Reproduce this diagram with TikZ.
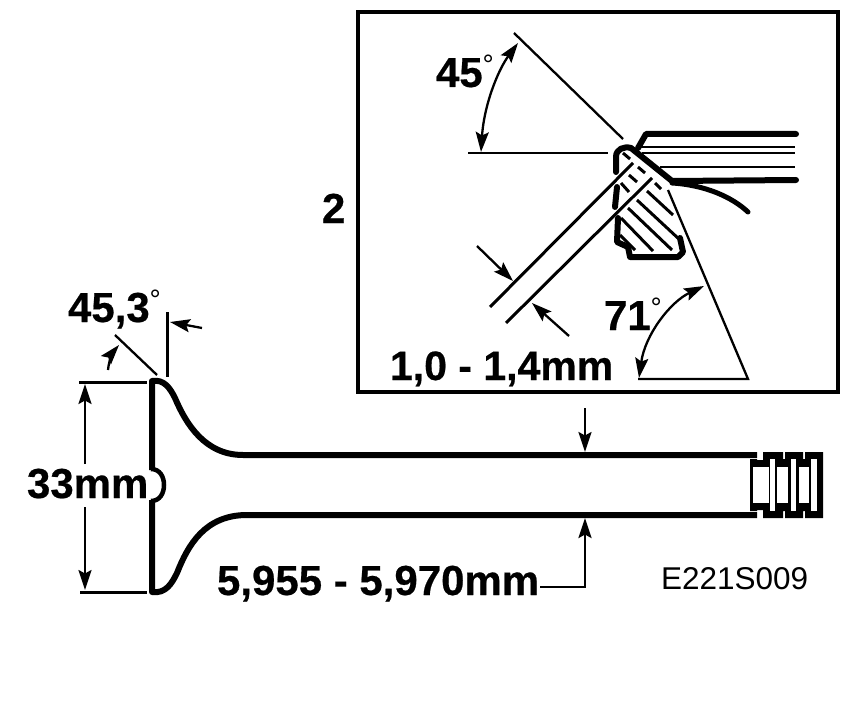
\documentclass[tikz,border=0pt]{standalone}
\usepackage{fontspec}
\setmainfont{Liberation Sans}[BoldFeatures={FakeBold=0.5}]
\usetikzlibrary{arrows.meta}
\tikzset{
  lab/.style={anchor=base west,inner sep=0pt,outer sep=0pt,font=\fontsize{42}{42}\selectfont\bfseries},
  thin line/.style={line width=2.3pt},
  thick line/.style={line width=6pt,line cap=round,line join=round},
  mid line/.style={line width=3pt},
  hatch/.style={line width=3pt},
  arr/.style={line width=2.3pt,-{Stealth[length=20pt,width=13pt,inset=3.5pt]}},
  darr/.style={line width=2.3pt,{Stealth[length=20pt,width=13pt,inset=3.5pt]}-{Stealth[length=20pt,width=13pt,inset=3.5pt]}}
}
\newcommand{\degsign}{\raisebox{0.3em}{\fontsize{28}{28}\selectfont\mdseries °}}
\begin{document}
\begin{tikzpicture}[x=1pt,y=-1pt]
\useasboundingbox (0,0) rectangle (864,722);
% inset frame
\draw[line width=4pt] (358,12) rectangle (838,392);
% inset: 45 degree
\draw[thin line] (514,33) -- (623,139);
\draw[thin line] (468,153) -- (608,153);
\draw[darr] (481,152) .. controls (484,105) and (498,70) .. (518,43);
% inset: valve
\draw[thick line] (616,172) -- (616,157) .. controls (616,149) and (624,146) .. (631,148) -- (672,181) -- (796,180);
\draw[line width=5pt,line cap=round] (672,183) .. controls (705,185) and (732,197) .. (748,212);
\draw[thick line] (638,148) -- (646,134) -- (796,134);
\draw[line width=2.6pt] (640,147) -- (795,147);
\draw[line width=2.6pt] (642,153) -- (795,153);
\draw[line width=2.6pt] (660,167) -- (795,167);
% inset: seat
\draw[thick line] (617,187) -- (615,207);
\draw[thick line] (618,218) -- (617,242) -- (628,247) -- (630,257) -- (678,257) -- (683,252) -- (680,238);
\draw[hatch] (623,153) -- (630,159);
\draw[hatch] (638,167) -- (645,173);
\draw[hatch] (629,175) -- (637,182);
\draw[hatch] (655,183) -- (661,189);
\draw[hatch] (621,183) -- (629,192);
\draw[hatch] (647,191) -- (673,215);
\draw[hatch] (637,200) -- (680,240);
\draw[hatch] (628,208) -- (672,250);
\draw[hatch] (621,218) -- (653,251);
\draw[hatch] (620,235) -- (635,250);
% inset: seat width
\draw[mid line] (490,307) -- (633,163);
\draw[mid line] (506,323) -- (652,178);
\draw[arr] (477,246) -- (513,281);
\draw[arr] (569,336) -- (532,303);
% inset: 71 degree
\draw[thin line] (668,190) -- (748,379) -- (638,379);
\draw[darr] (704,286) .. controls (670,302) and (645,335) .. (639,378);
% valve
\draw[line width=6pt,line join=round] (152,470) -- (152,381) .. controls (164,379) and (170,388) .. (175,398)
  .. controls (186,424) and (205,455) .. (243,455) -- (757,455);
\draw[line width=6pt,line join=round] (152,500) -- (152,592) .. controls (166,594) and (172,583) .. (177,573)
  .. controls (188,545) and (205,515) .. (247,515) -- (757,515);
\draw[line width=4.5pt] (151,469) .. controls (160,469) and (164,477) .. (164,485) .. controls (164,493) and (160,501) .. (151,501);
% valve tip
\fill (750,459) -- (757,459) -- (757,460) -- (763,460) -- (763,452) -- (783,452) -- (783,459) -- (785,459) -- (785,452) -- (803,452) -- (803,459) -- (805,459) -- (805,452) -- (823,452)
  -- (823,518) -- (805,518) -- (805,511) -- (803,511) -- (803,518) -- (785,518) -- (785,511) -- (783,511) -- (783,518) -- (763,518) -- (763,510) -- (757,510) -- (757,511) -- (750,511) -- cycle;
\fill[white] (753,467) rectangle (769,503);
\fill[white] (770,459) rectangle (775,511);
\fill[white] (777,467) rectangle (788,503);
\fill[white] (791,459) rectangle (796,511);
\fill[white] (799,467) rectangle (809,503);
\fill[white] (811,459) rectangle (817,511);
% dimensions on the valve
\draw[mid line] (79,382) -- (147,382);
\draw[mid line] (80,592) -- (147,592);
\draw[arr] (85,464) -- (85,384);
\draw[arr] (85,507) -- (85,590);
\draw[thin line] (115,335) -- (157,375);
\draw[mid line] (167,312) -- (167,377);
\draw[arr] (202,328) -- (170,322);
\draw[arr] (108,370) .. controls (109,360) and (113,352) .. (119,345);
\draw[arr] (585,408) -- (585,452);
\draw[line width=2.5pt,-{Stealth[length=20pt,width=13pt,inset=3.5pt]}] (540,587) -- (585,587) -- (585,518);
% labels
\node[lab] (l45) at (436,87) {45\degsign};
\node[lab] (ltwo) at (322,223) {2};
\node[lab] (l71) at (604,330) {71\degsign};
\node[lab,font=\fontsize{41}{41}\selectfont\bfseries] (lseat) at (390,380) {1,0 - 1,4mm};
\node[lab] (l453) at (68,322) {45,3\degsign};
\node[lab] (l33) at (27,498) {33mm};
\node[lab] (lstem) at (217,595) {5,955 - 5,970mm};
\node[lab,font=\fontsize{31.5}{31.5}\selectfont] (lcode) at (661,589) {E221S009};
\end{tikzpicture}
\end{document}
